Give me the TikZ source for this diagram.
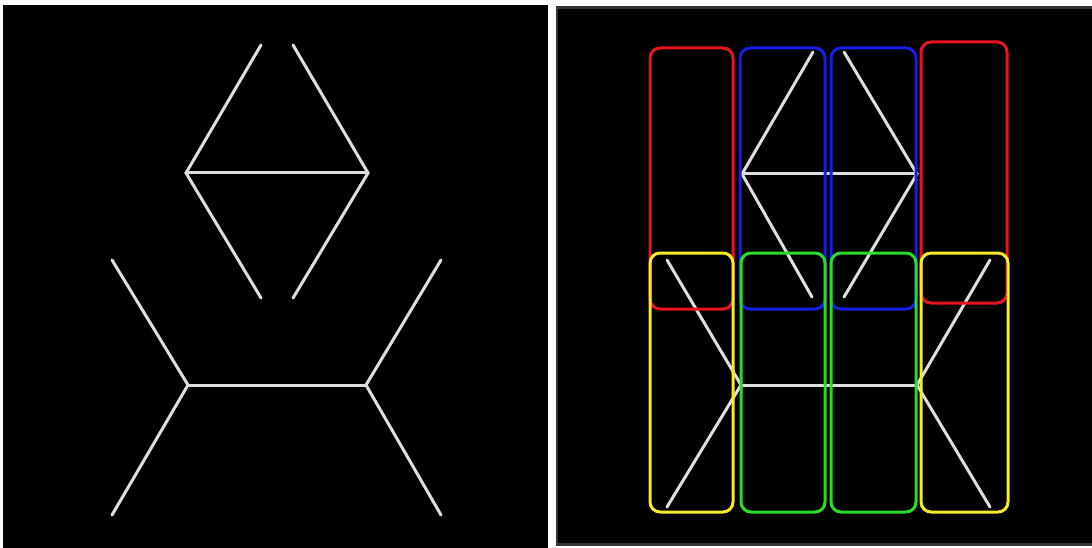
\documentclass[tikz,border=0pt]{standalone}
\begin{document}
\begin{tikzpicture}[x=1pt,y=-1pt,
  stroke/.style={draw=black!13, line width=3pt, line cap=round},
  box/.style={line width=3pt, rounded corners=10pt},
  redbox/.style={box, draw={rgb,255:red,230;green,20;blue,30}},
  bluebox/.style={box, draw={rgb,255:red,20;green,30;blue,230}},
  greenbox/.style={box, draw={rgb,255:red,40;green,220;blue,40}},
  yellowbox/.style={box, draw={rgb,255:red,245;green,235;blue,40}}]
\useasboundingbox (0,0) rectangle (1092,548);
\fill[white] (0,0) rectangle (1092,548);
% panels
\fill[black] (3,5) rectangle (548,548);
\fill[black!80] (556,6) rectangle (1092,546);
\fill[black] (558,9) rectangle (1092,543);
% left figure
\coordinate (a1) at (261,45);
\coordinate (a2) at (293,45);
\coordinate (aL) at (186,173);
\coordinate (aR) at (368,173);
\coordinate (a3) at (261,298);
\coordinate (a4) at (293,298);
\draw[stroke] (a1) -- (aL) -- (a3);
\draw[stroke] (a2) -- (aR) -- (a4);
\draw[stroke] (aL) -- (aR);
\coordinate (b1) at (112,260);
\coordinate (b2) at (112,515);
\coordinate (bL) at (188,385);
\coordinate (bR) at (366,385);
\coordinate (b3) at (441,260);
\coordinate (b4) at (441,515);
\draw[stroke] (b1) -- (bL) -- (b2);
\draw[stroke] (b3) -- (bR) -- (b4);
\draw[stroke] (bL) -- (bR);
% right figure
\coordinate (c1) at (813,52);
\coordinate (c2) at (844,52);
\coordinate (cL) at (742,174);
\coordinate (cR) at (917,174);
\coordinate (c3) at (812,297);
\coordinate (c4) at (844,297);
\draw[stroke] (c1) -- (cL) -- (c3);
\draw[stroke] (c2) -- (cR) -- (c4);
\draw[stroke] (cL) -- (cR);
\coordinate (d1) at (667,260);
\coordinate (d2) at (667,507);
\coordinate (dL) at (741,385);
\coordinate (dR) at (917,385);
\coordinate (d3) at (990,260);
\coordinate (d4) at (990,507);
\draw[stroke] (d1) -- (dL) -- (d2);
\draw[stroke] (d3) -- (dR) -- (d4);
\draw[stroke] (dL) -- (dR);
% boxes
\draw[redbox] (650,48) rectangle (733,309);
\draw[redbox] (921,42) rectangle (1007,303);
\draw[bluebox] (740,48) rectangle (825,309);
\draw[bluebox] (831,48) rectangle (916,309);
\draw[yellowbox] (650,253) rectangle (733,512);
\draw[greenbox] (741,253) rectangle (825,512);
\draw[greenbox] (831,253) rectangle (916,512);
\draw[yellowbox] (921,253) rectangle (1008,512);
\end{tikzpicture}
\end{document}
